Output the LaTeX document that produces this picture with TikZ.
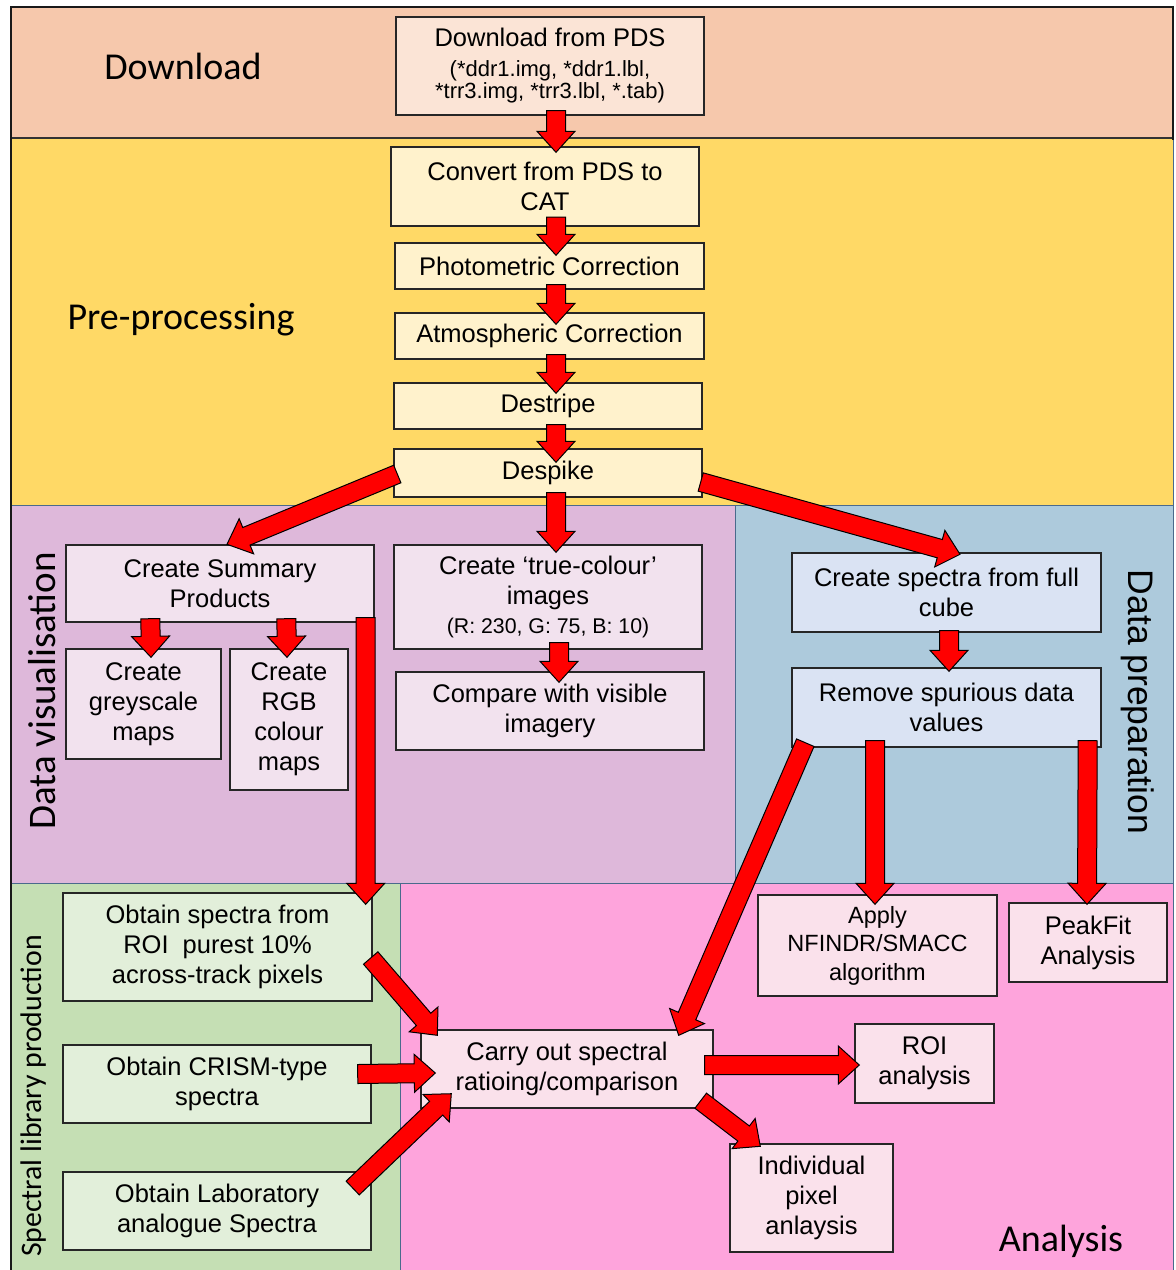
\documentclass[tikz,border=0pt]{standalone}
\usepackage{fontspec}
\setmainfont{Liberation Sans}
\newfontfamily\calib{Carlito}
\usetikzlibrary{calc}

\definecolor{bandDl}{HTML}{F6C8AC}
\definecolor{boxDl}{HTML}{FBE4D6}
\definecolor{bandPre}{HTML}{FFD966}
\definecolor{boxPre}{HTML}{FFF2CC}
\definecolor{bandVis}{HTML}{DEB8DA}
\definecolor{boxVis}{HTML}{F2E2EE}
\definecolor{bandPrep}{HTML}{ADCADC}
\definecolor{boxPrep}{HTML}{DAE3F3}
\definecolor{bandLib}{HTML}{C5DFB4}
\definecolor{boxLib}{HTML}{E2EFDA}
\definecolor{bandAna}{HTML}{FEA4DC}
\definecolor{boxAna}{HTML}{FAE1EB}
\definecolor{edgeBlue}{HTML}{4A6A8C}
\definecolor{arrowRed}{HTML}{FF0000}

% block arrow dimensions
\newcommand{\arsw}{9.5pt}
\newcommand{\arhw}{19pt}
\newcommand{\arhl}{21pt}

% red block arrow with a black outline, from #1 to #2
\newcommand{\redarrow}[2]{%
  \coordinate (ra) at #1;
  \coordinate (rb) at #2;
  \coordinate (rh) at ($(rb)!\arhl!(ra)$);
  \draw[blockarrow] ($(ra)!\arsw!90:(rb)$) -- ($(rh)!\arsw!90:(rb)$)
    -- ($(rh)!\arhw!90:(rb)$) -- (rb) -- ($(rh)!\arhw!-90:(rb)$)
    -- ($(rh)!\arsw!-90:(rb)$) -- ($(ra)!\arsw!-90:(rb)$) -- cycle;}

\tikzset{
  blockarrow/.style={fill=arrowRed, draw=black, line width=1pt, line join=miter},
  band/.style={draw=edgeBlue, line width=1pt},
  stepbox/.style={draw=black!85, line width=1.4pt, align=center, inner sep=0pt,
    font=\fontsize{25.5}{30}\selectfont},
  bandlabel/.style={font=\calib\fontsize{38}{40}\selectfont, inner sep=0pt},
}

\begin{document}
\begin{tikzpicture}[x=1pt, y=-1pt]
\useasboundingbox (0,0) rectangle (1176,1270);

% background bands
\fill[white] (0,0) rectangle (1176,1270);
\filldraw[band, fill=bandDl] (11,7) rectangle (1173,138);
\filldraw[band, fill=bandPre] (11,138) rectangle (1173,505);
\filldraw[band, fill=bandVis] (11,505) rectangle (735,883);
\filldraw[band, fill=bandPrep] (735,505) rectangle (1173,883);
\filldraw[band, fill=bandLib] (11,883) rectangle (400,1272);
\filldraw[band, fill=bandAna] (400,883) rectangle (1173,1272);
\draw[black!80, line width=1.5pt] (11,138) -- (1173,138);
\draw[black!90, line width=2pt] (11,1272) -- (11,7) -- (1173,7) -- (1173,140);

% band titles
\node[bandlabel] (tDl) at (183,66) {Download};
\node[bandlabel] (tPre) at (181,320) {Pre-processing};
\node[bandlabel, rotate=90, font=\calib\fontsize{39}{40}\selectfont] (tVis) at (42,691) {Data visualisation};
\node[bandlabel, rotate=-90, font=\fontsize{35.5}{36}\selectfont] (tPrep) at (1138,702) {Data preparation};
\node[bandlabel, rotate=90, font=\calib\fontsize{29.8}{32}\selectfont] (tLib) at (34,1096) {Spectral library production};
\node[bandlabel] (tAna) at (1061,1241) {Analysis};

% download and pre-processing steps
\node[stepbox, fill=boxDl, minimum width=308, minimum height=98] (dl) at (550,66)
  {Download from PDS\\[0pt]{\fontsize{22}{22}\selectfont (*ddr1.img, *ddr1.lbl,}\\[-8pt]{\fontsize{22}{22}\selectfont *trr3.img, *trr3.lbl, *.tab)}};
\node[stepbox, fill=boxPre, minimum width=308, minimum height=79] (conv) at (545,186.5) {Convert from PDS to\\CAT};
\node[stepbox, fill=boxPre, minimum width=309, minimum height=46] (photo) at (549.5,266) {Photometric Correction};
\node[stepbox, fill=boxPre, minimum width=309, minimum height=46] (atmo) at (549.5,336) {Atmospheric Correction};
\node[stepbox, fill=boxPre, minimum width=308, minimum height=46] (destr) at (548,406) {Destripe};
\node[stepbox, fill=boxPre, minimum width=308, minimum height=48] (despk) at (548,473) {Despike};

% data visualisation steps
\node[stepbox, fill=boxVis, minimum width=308, minimum height=77] (summ) at (220,583.5) {Create Summary\\Products};
\node[stepbox, fill=boxVis, minimum width=155, minimum height=110] (grey) at (143.5,704) {Create\\greyscale\\maps};
\node[stepbox, fill=boxVis, minimum width=118, minimum height=141] (rgb) at (289,719.5) {Create\\RGB\\colour\\maps};
\node[stepbox, fill=boxVis, minimum width=308, minimum height=104] (truec) at (548,597)
  {Create ‘true-colour’\\images\\[-1pt]{\fontsize{21.3}{24}\selectfont (R: 230, G: 75, B: 10)}};
\node[stepbox, fill=boxVis, minimum width=308, minimum height=78] (comp) at (550,711) {Compare with visible\\imagery};

% data preparation steps
\node[stepbox, fill=boxPrep, minimum width=309, minimum height=79] (cspec) at (946.5,592.5) {Create spectra from full\\cube};
\node[stepbox, fill=boxPrep, minimum width=309, minimum height=79] (remv) at (946.5,707.5) {Remove spurious data\\values};

% spectral library steps
\node[stepbox, fill=boxLib, minimum width=309, minimum height=108] (oroi) at (217.5,947) {Obtain spectra from\\ROI\ \ purest 10\%\\across-track pixels};
\node[stepbox, fill=boxLib, minimum width=308, minimum height=78] (crism) at (217,1084) {Obtain CRISM-type\\spectra};
\node[stepbox, fill=boxLib, minimum width=308, minimum height=78] (lab) at (217,1211) {Obtain Laboratory\\analogue Spectra};

% analysis steps
\node[stepbox, fill=boxAna, minimum width=292, minimum height=78] (carry) at (567,1069) {Carry out spectral\\ratioing/comparison};
\node[stepbox, fill=boxAna, minimum width=239, minimum height=101, font=\fontsize{23.5}{28.5}\selectfont] (nfindr) at (877.5,945.5) {Apply\\NFINDR/SMACC\\algorithm};
\node[stepbox, fill=boxAna, minimum width=158, minimum height=79] (peak) at (1088,942.5) {PeakFit\\Analysis};
\node[stepbox, fill=boxAna, minimum width=139, minimum height=79] (roi) at (924.5,1063.5) {ROI\\analysis};
\node[stepbox, fill=boxAna, minimum width=163, minimum height=108] (indiv) at (811.5,1198) {Individual\\pixel\\anlaysis};

% connectors
\redarrow{($(dl.south)+(6,-5)$)}{($(conv.north)+(11,6)$)}
\redarrow{($(conv.south)+(11,-9.5)$)}{($(photo.north)+(6.5,13)$)}
\redarrow{($(photo.south)+(6.5,-5)$)}{($(atmo.north)+(6.5,12)$)}
\redarrow{($(atmo.south)+(6.5,-5)$)}{($(destr.north)+(8,11)$)}
\redarrow{($(destr.south)+(8,-5)$)}{($(despk.north)+(8,14)$)}
\redarrow{($(despk.south)+(8,-5)$)}{($(truec.north)+(8,8)$)}
\redarrow{($(despk.west)+(4,1)$)}{($(summ.north)+(7,0)$)}
\redarrow{($(despk.east)+(-2,9)$)}{($(cspec.north)+(13.5,2)$)}
\redarrow{($(truec.south)+(11,-7)$)}{($(comp.north)+(9,11)$)}
\redarrow{($(summ.south west)+(85,-4)$)}{($(grey.north)+(7.5,9)$)}
\redarrow{($(summ.south west)+(221,-4)$)}{($(rgb.north)+(-2,9)$)}
\redarrow{($(summ.south east)+(-9,-5)$)}{($(oroi.north east)+(-7,12)$)}
\redarrow{($(cspec.south)+(2.5,-2)$)}{($(remv.north)+(2.5,4)$)}
\redarrow{($(remv.south west)+(14,-5)$)}{($(carry.north east)+(-35,6)$)}
\redarrow{($(remv.south)+(-71.5,-7)$)}{($(nfindr.north)+(-2.5,10)$)}
\redarrow{($(remv.south east)+(-14,-7)$)}{($(peak.north)+(-1,2)$)}
\redarrow{($(oroi.east)+(-2,11)$)}{($(carry.north west)+(17,6)$)}
\redarrow{($(crism.east)+(-14,-10)$)}{($(carry.west)+(15,4)$)}
\redarrow{($(lab.east)+(-19,-23)$)}{($(carry.south west)+(31,-15)$)}
\redarrow{($(carry.east)+(-9,-4)$)}{($(roi.west)+(5,1.5)$)}
\redarrow{($(carry.south east)+(-13,-8)$)}{($(indiv.north west)+(31,3)$)}
\end{tikzpicture}
\end{document}
